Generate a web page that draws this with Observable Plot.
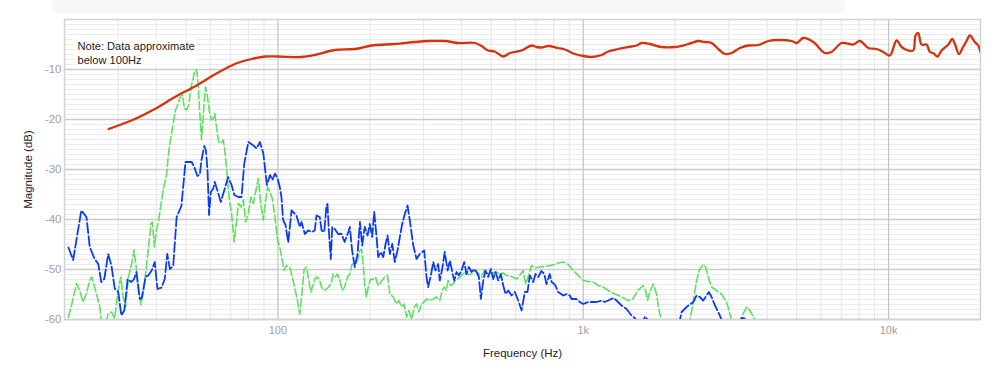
<!DOCTYPE html>
<html><head><meta charset="utf-8">
<script src="https://cdn.jsdelivr.net/npm/d3@7"></script>
<script src="https://cdn.jsdelivr.net/npm/@observablehq/plot@0.6"></script>
<style>
body{margin:0;background:#fff;}
#wrap{position:relative;width:1000px;height:388px;overflow:hidden;}
#band{position:absolute;left:52px;top:0;width:793px;height:13px;background:#f8f8f8;}
#chart{position:absolute;left:0;top:0;}
</style></head><body>
<div id="wrap"><div id="band"></div><div id="chart"></div></div>
<script>
const xTitle = "Frequency (Hz)";
const yTitle = "Magnitude (dB)";
const noteText = "Note: Data approximate\nbelow 100Hz";
const xTicks = [100, 1000, 10000];
const xTickLabels = ["100", "1k", "10k"];
const yTicks = [-10, -20, -30, -40, -50, -60];
const yTickLabels = ["-10", "-20", "-30", "-40", "-50", "-60"];
const gridMinorHz = [30, 40, 50, 60, 70, 80, 90, 200, 300, 400, 500, 600, 700, 800, 900, 2000, 3000, 4000, 5000, 6000, 7000, 8000, 9000];

const redHz = [27.9, 34, 39.5, 46, 53.4, 62.1, 72.3, 82, 90.7, 100.2, 119.5, 132, 153.5, 178.6, 202.6, 241.5, 281, 310.6, 352, 389.5, 441.7, 464.5, 488, 513, 547, 575, 628, 677, 703, 730, 767, 828, 870, 938, 1000, 1064, 1148, 1207, 1302, 1404, 1496, 1552, 1652, 1805, 1995, 2208, 2380, 2500, 2632, 2768, 2909, 3059, 3258, 3470, 3743, 4036, 4353, 4811, 5000, 5256, 5668, 6186, 6505, 7014, 7660, 8056, 8582, 9134, 9608, 10099, 10620, 11030, 11600, 12045, 12255, 12510, 12823, 13315, 13650, 14000, 14470, 14910, 15690, 16170, 16490, 17000, 17540, 18000, 18460, 19170, 19650, 20000];
const redDb = [-21.9, -19.9, -17.9, -15.5, -13.4, -11.0, -8.9, -7.9, -7.4, -7.4, -7.5, -7.1, -6.1, -5.9, -5.2, -4.9, -4.5, -4.3, -4.3, -4.7, -4.7, -5.3, -6.2, -6.4, -7.4, -6.7, -6.2, -5.2, -5.5, -5.6, -5.3, -5.7, -6.0, -6.9, -7.3, -7.5, -7.1, -6.4, -5.9, -5.5, -5.2, -4.7, -4.9, -5.5, -5.5, -4.9, -4.3, -4.5, -4.7, -5.9, -6.9, -6.7, -5.7, -5.2, -5.1, -4.3, -4.1, -4.3, -4.7, -3.7, -4.5, -6.7, -6.5, -4.7, -5.0, -4.3, -5.7, -5.9, -6.5, -7.2, -4.2, -5.5, -6.2, -6.2, -3.2, -2.7, -5.0, -5.0, -6.5, -6.7, -7.4, -6.2, -5.0, -3.9, -4.9, -6.9, -5.5, -4.3, -3.2, -4.5, -5.2, -6.5];

const blueHz = [20.6, 21.35, 22.7, 23.6, 24.2, 25.1, 25.8, 26.4, 27.0, 27.8, 28.5, 29.2, 30.0, 30.7, 31.4, 32.2, 33.1, 33.8, 34.4, 35.3, 35.8, 36.9, 37.6, 38.6, 39.5, 40.3, 41.6, 42.6, 43.4, 44.3, 45.4, 46.6, 48.3, 49.8, 52.2, 53.2, 54.5, 55.5, 56.2, 57.4, 58.1, 58.8, 59.5, 60.3, 61.4, 62.1, 63.3, 65.0, 67.0, 68.7, 70.5, 72.0, 74.2, 76.0, 77.6, 80.0, 83.1, 85.2, 87.3, 89.6, 92.0, 94.2, 95.9, 97.8, 99.7, 101.4, 102.7, 104.0, 105.9, 108.1, 110.8, 115, 118, 119.5, 122.5, 125.7, 128.8, 132, 133.8, 137.1, 139, 141.8, 144.2, 145.3, 146.8, 149, 150.6, 153.5, 157.6, 161.6, 165.4, 170, 172, 175, 178.6, 182.3, 185.6, 188.8, 192.5, 196.5, 200, 203.6, 206.7, 210, 213, 217.3, 221.3, 225.2, 228.6, 232.6, 236.8, 241.5, 246.4, 250.8, 255.3, 260.4, 265.8, 270.4, 277.5, 284.5, 291.5, 301.4, 306.6, 310.4, 316.9, 322.7, 328.2, 334.9, 339, 345.1, 351.8, 359.5, 365.7, 372.4, 378, 384.6, 391.3, 399.4, 407.6, 414.6, 421.9, 430.8, 440, 447.4, 455.2, 462, 470.6, 478.5, 488.4, 498.1, 507.2, 515.9, 526.8, 537.2, 547, 556.6, 568, 582.4, 597, 612.5, 628, 643.7, 656.9, 668.2, 685.7, 697.6, 712, 729.6, 745, 758, 776.7, 787.6, 807.3, 828, 860, 882, 903.8, 915.5, 950, 974.4, 1000, 1038, 1064, 1106, 1150, 1177, 1207, 1254, 1285, 1335, 1386, 1439, 1475, 1504, 1552, 1592, 1633, 1673, 2023, 2100, 2180, 2235, 2293, 2350, 2409, 2472, 2534, 2578, 2632, 2700, 2768, 2838, 2900, 3200, 3300, 3375, 3450];
const blueDb = [-45.6, -48.1, -38.2, -39.5, -45.5, -47.9, -48.9, -52.5, -51.9, -46.9, -49.2, -53.8, -54.5, -59.2, -58.2, -51.9, -52.5, -51.9, -50.5, -55.9, -55.7, -51.4, -51.2, -50.2, -48.5, -53.9, -53.6, -51.9, -46.9, -49.9, -49.3, -39.5, -37.3, -28.5, -28.5, -29.5, -31.3, -31.0, -28.1, -25.3, -26.1, -30.1, -39.1, -34.5, -33.8, -32.5, -34.1, -36.5, -33.8, -31.5, -33.1, -35.1, -35.5, -35.5, -28.8, -24.5, -25.2, -25.8, -24.5, -26.8, -33.1, -31.1, -32.1, -30.8, -31.8, -33.5, -35.5, -40.1, -41.1, -44.6, -38.2, -39.2, -41.5, -40.5, -42.9, -42.2, -42.5, -42.2, -39.2, -39.5, -42.2, -42.5, -37.2, -36.9, -42.2, -47.9, -41.5, -41.9, -42.9, -42.9, -44.5, -42.5, -41.5, -46.2, -49.5, -46.9, -40.5, -45.2, -41.5, -43.2, -40.9, -43.5, -38.5, -42.9, -47.5, -46.5, -47.5, -44.9, -43.2, -46.9, -44.9, -48.5, -46.2, -43.5, -40.9, -38.9, -37.2, -40.2, -45.2, -47.9, -46.9, -46.2, -51.5, -53.5, -51.2, -48.5, -50.2, -48.9, -52.2, -49.9, -46.5, -50.2, -48.2, -50.5, -52.2, -50.5, -51.2, -50.2, -48.5, -50.9, -49.5, -50.5, -49.9, -50.5, -51.5, -55.9, -52.2, -50.2, -51.5, -49.9, -51.9, -50.5, -52.2, -50.9, -53.2, -54.9, -54.2, -55.2, -54.5, -56.2, -58.2, -54.5, -54.5, -51.2, -52.5, -50.9, -51.5, -50.3, -50.9, -52.9, -50.9, -52.5, -53.0, -54.5, -55.2, -54.9, -55.2, -55.9, -55.9, -56.5, -56.9, -56.5, -56.5, -56.5, -56.2, -56.5, -56.2, -55.7, -56.2, -57.2, -57.9, -59.2, -59.7, -60.5, -61.5, -59.4, -60.2, -63, -63, -58.5, -57.5, -57.0, -56.5, -55.2, -55.5, -56.2, -55.2, -54.5, -55.5, -57.2, -58.5, -60, -62, -62, -59.7, -59.8, -62];

const greenHz = [20.6, 21.1, 21.9, 22.4, 23.0, 23.6, 24.2, 24.6, 25.1, 25.6, 26.1, 26.4, 27.0, 27.8, 28.5, 29.2, 30.0, 30.6, 31.1, 31.7, 32.4, 33.2, 33.8, 34.4, 34.8, 35.6, 36.2, 37.1, 37.7, 38.4, 38.8, 39.4, 40.0, 40.7, 41.6, 42.4, 43.2, 43.7, 44.6, 45.4, 46.2, 47.2, 47.8, 48.7, 49.4, 50.2, 51.1, 51.9, 52.8, 53.4, 54.2, 54.8, 55.5, 56.2, 56.9, 57.9, 58.8, 59.8, 60.6, 61.4, 62.1, 62.9, 64.0, 65.0, 66.2, 67.0, 68.2, 69.3, 70.5, 71.9, 73.3, 74.2, 75.7, 77.1, 78.4, 80.0, 81.6, 83.1, 84.5, 86.3, 87.8, 89.6, 91.2, 92.5, 94.2, 95.9, 97.8, 99.7, 101.4, 103.3, 104.8, 106.6, 109.3, 112.2, 115, 118, 120.1, 121.9, 124.1, 126.2, 128.1, 130.3, 132, 134.7, 137.1, 139, 141.8, 144.2, 146.8, 149.8, 151.7, 154.3, 156.7, 159.6, 162.4, 165.4, 169, 172, 175, 178.6, 182.3, 185.6, 187.8, 190.2, 192.5, 195, 197.5, 201.4, 205, 208.7, 213, 217.3, 221.3, 225.2, 228.6, 232.6, 238.6, 244.6, 248.9, 254.1, 259.3, 263.9, 268.5, 274, 279.6, 284.5, 289.5, 295.3, 301.4, 306.6, 314.3, 322.7, 330.8, 339, 345.1, 351.8, 356.4, 361, 367.9, 374.6, 381, 388.8, 399.4, 407.6, 414.6, 421.9, 430.8, 440, 447.4, 455.2, 464.5, 474, 482, 490.4, 500.8, 510.9, 519.8, 532.8, 547, 560.5, 582.4, 605, 619.5, 635, 648, 662, 677, 694, 721, 748, 776.7, 807.3, 828, 860, 893, 928, 964, 1000, 1038, 1078, 1120, 1163, 1207, 1269, 1335, 1404, 1455, 1510, 1572, 1600, 1624, 1652, 1695, 1738, 1768, 1805, 1880, 2180, 2235, 2293, 2350, 2409, 2472, 2515, 2567, 2632, 2733, 2838, 2946, 3059, 3180, 3251, 3300, 3426, 3513, 3649, 3780];
const greenDb = [-59.5, -57.1, -52.8, -54.1, -56.5, -54.8, -52.1, -51.5, -53.5, -55.5, -57.5, -60.1, -62, -58.8, -58.5, -59.8, -54.1, -51.5, -55.5, -57.5, -51.5, -48.8, -46.1, -49.8, -53.5, -57.1, -54.8, -49.5, -45.5, -40.8, -40.5, -45.5, -42.1, -40.1, -36.1, -33.1, -31.1, -27.5, -23.5, -20.8, -18.1, -16.8, -15.5, -15.1, -17.8, -18.1, -17.1, -13.5, -11.8, -10.1, -10.1, -13.1, -18.8, -24.1, -19.5, -13.5, -15.5, -18.8, -20.1, -19.8, -18.8, -21.5, -24.5, -24.8, -24.1, -26.1, -31.1, -36.1, -38.8, -44.5, -40.1, -36.8, -37.5, -36.1, -40.5, -38.8, -35.5, -36.8, -34.5, -31.8, -36.8, -40.1, -36.1, -33.5, -34.5, -35.8, -39.5, -44.1, -45.5, -48.1, -50.2, -49.2, -49.5, -52.2, -55.2, -58.9, -54.2, -49.9, -49.5, -52.2, -54.5, -53.2, -51.9, -51.5, -52.2, -53.5, -54.2, -53.9, -53.5, -52.5, -50.9, -51.5, -50.9, -52.2, -54.2, -53.5, -51.5, -50.9, -48.9, -48.9, -48.2, -46.2, -45.9, -48.9, -53.2, -55.5, -53.5, -51.9, -52.0, -51.5, -53.2, -52.5, -51.9, -51.2, -51.2, -54.9, -55.5, -56.9, -56.2, -57.5, -56.9, -59.5, -58.2, -59.9, -57.5, -56.9, -58.5, -56.9, -56.5, -55.9, -56.2, -55.9, -55.5, -56.2, -54.2, -53.5, -54.2, -52.2, -53.2, -52.9, -52.2, -51.9, -51.2, -50.5, -51.0, -50.9, -51.0, -50.2, -50.5, -50.9, -51.5, -50.2, -50.5, -51.2, -50.2, -51.0, -50.5, -50.9, -50.7, -51.2, -51.4, -51.9, -51.2, -50.2, -52.9, -51.2, -49.2, -49.7, -49.5, -49.4, -49.2, -49.0, -48.7, -48.5, -49.0, -50.2, -51.2, -52.2, -52.4, -52.5, -53.2, -53.5, -54.2, -54.9, -55.5, -56.2, -55.9, -54.2, -53.2, -54.2, -56.2, -54.5, -52.9, -54.9, -57.9, -60.2, -63, -63, -60.2, -56.5, -52.2, -49.9, -49.0, -49.5, -51.5, -53.5, -54.2, -54.9, -56.5, -60, -63, -62, -59.5, -57.5, -58.2, -60, -63];

const toRows = (hz, db) => hz.map((f, i) => ({f, db: db[i]}));
const red = toRows(redHz, redDb);
const blue = toRows(blueHz, blueDb);
const green = toRows(greenHz, greenDb);
const gridMinorDb = d3.range(-59, 0).filter(v => v % 10 !== 0);

const chart = Plot.plot({
  width: 1000, height: 388,
  marginTop: 19, marginRight: 20, marginBottom: 69, marginLeft: 64,
  style: {fontFamily: "'Liberation Sans', Arial, Helvetica, sans-serif", fontSize: "12px", background: "transparent", overflow: "visible"},
  x: {type: "log", domain: [20, 20000]},
  y: {domain: [-60, 0]},
  marks: [
    Plot.ruleX(gridMinorHz, {stroke: "#e8e8e8", strokeWidth: 1.2}),
    Plot.ruleY(gridMinorDb, {stroke: "#ebebeb", strokeWidth: 1}),
    Plot.ruleX(xTicks, {stroke: "#c6c6c6", strokeWidth: 1.3}),
    Plot.ruleY(yTicks, {stroke: "#cbcbcb", strokeWidth: 1.3}),
    Plot.frame({stroke: "#d2d2d2", strokeWidth: 1.5}),
    Plot.line(green, {x: "f", y: "db", stroke: "#5fe060", strokeWidth: 1.6, strokeDasharray: "8,3", clip: true}),
    Plot.line(blue, {x: "f", y: "db", stroke: "#0b3cf5", strokeWidth: 1.8, strokeDasharray: "10,3", clip: true}),
    Plot.line(red, {x: "f", y: "db", stroke: "#d4330f", strokeWidth: 2.3, curve: "catmull-rom", clip: true}),
    Plot.axisX({ticks: xTicks, tickFormat: d => xTickLabels[xTicks.indexOf(d)], tickSize: 0, tickPadding: 7, color: "#a0a0a0", fontSize: 11, label: null}),
    Plot.axisY({ticks: yTicks, tickFormat: d => yTickLabels[yTicks.indexOf(d)], tickSize: 0, tickPadding: 3, color: "#a0a0a0", fontSize: 11.5, label: null}),
    Plot.text([xTitle], {frameAnchor: "bottom", dy: 37.5, fontSize: 11.5, fill: "#222"}),
    Plot.text([yTitle], {frameAnchor: "left", dx: -36, rotate: -90, textAnchor: "middle", fontSize: 11.5, fill: "#222"}),
    Plot.text([noteText], {frameAnchor: "top-left", dx: 13, dy: 21, textAnchor: "start", lineAnchor: "top", fontSize: 11.1, lineHeight: 1.22, fill: "#222"})
  ]
});
document.getElementById("chart").appendChild(chart);

// white box behind the note
const texts = chart.querySelectorAll('g[aria-label="text"]');
const noteG = texts[texts.length - 1];
const noteEl = noteG.querySelector("text");
const bb = noteEl.getBBox();
const rect = document.createElementNS("http://www.w3.org/2000/svg", "rect");
rect.setAttribute("x", bb.x - 4);
rect.setAttribute("y", bb.y - 2);
rect.setAttribute("width", bb.width + 6);
rect.setAttribute("height", bb.height + 1);
rect.setAttribute("fill", "#fff");
const t = noteEl.getAttribute("transform");
if (t) rect.setAttribute("transform", t);
noteG.insertBefore(rect, noteEl);
</script>
</body></html>
